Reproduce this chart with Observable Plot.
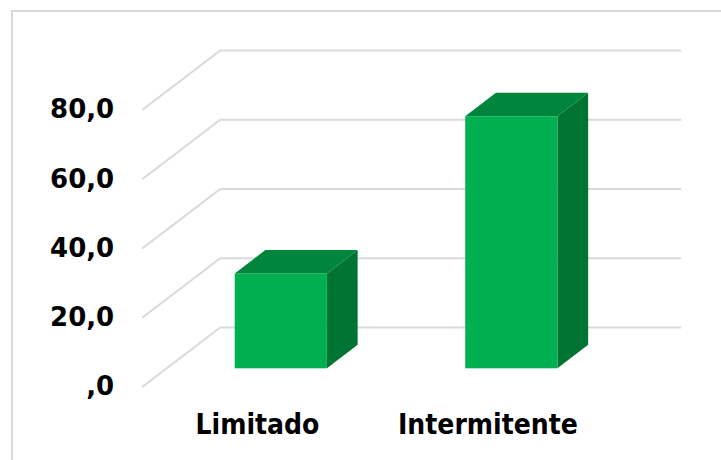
<!DOCTYPE html>
<html>
<head>
<meta charset="utf-8">
<script src="https://cdn.jsdelivr.net/npm/d3@7"></script>
<script src="https://cdn.jsdelivr.net/npm/@observablehq/plot@0.6"></script>
<style>
  html, body { margin: 0; padding: 0; background: #fff; overflow: hidden; }
  #wrap { position: relative; width: 721px; height: 460px; }
  #frame { position: absolute; left: 11px; top: 10px; width: 1000px; height: 1000px;
           border-left: 2px solid #d9d9d9; border-top: 2px solid #d9d9d9; }
  #chart { position: absolute; left: 0; top: 0; }
  .xlab text { font-family: "DejaVu Sans Condensed", "DejaVu Sans"; font-stretch: condensed; }
</style>
</head>
<body>
<div id="wrap"><div id="frame"></div><div id="chart"></div></div>
<script>
// Data
const categories = ["Limitado", "Intermitente"];
const values = [27.4, 72.8];
const yTicks = [0, 20, 40, 60, 80];

// 3D oblique projection constants (in data units)
const DX = 78 / 230.5;   // full floor depth, x units
const DY = 17.18;        // full floor depth, y units
const d1 = 0.306, d2 = 0.70; // bar front/back depth fractions
const bw = 0.4;          // bar width in category units

const bars = categories.map((c, i) => ({cat: c, i, v: values[i]}));

// gridlines (floor-to-back-wall diagonal + back wall horizontal)
const diagLines = yTicks.map(t => ({x1: 0, y1: t, x2: DX, y2: t + DY}));
const backLines = yTicks.map(t => ({x1: DX, y1: t + DY, x2: 2 + DX, y2: t + DY}));

// faces
const frontFaces = bars.map(b => ({
  x1: b.i + 0.5 - bw / 2 + d1 * DX, x2: b.i + 0.5 + bw / 2 + d1 * DX,
  y1: d1 * DY, y2: b.v + d1 * DY
}));
const sideFaces = bars.flatMap(b => [
  {z: b.cat, x: b.i + 0.5 + bw / 2 + d1 * DX, y1: d1 * DY, y2: b.v + d1 * DY},
  {z: b.cat, x: b.i + 0.5 + bw / 2 + d2 * DX, y1: d2 * DY, y2: b.v + d2 * DY}
]);
const topFaces = bars.flatMap(b => [
  {z: b.cat, y: b.v + d1 * DY, x1: b.i + 0.5 - bw / 2 + d1 * DX, x2: b.i + 0.5 + bw / 2 + d1 * DX},
  {z: b.cat, y: b.v + d2 * DY, x1: b.i + 0.5 - bw / 2 + d2 * DX, x2: b.i + 0.5 + bw / 2 + d2 * DX}
]);

const fmt = v => v === 0 ? ",0" : v.toFixed(1).replace(".", ",");

const chart = Plot.plot({
  width: 721,
  height: 460,
  marginLeft: 141.7,
  marginRight: 118.3,
  marginTop: 109.5,
  marginBottom: 73.5,
  style: {fontFamily: "DejaVu Sans", background: "transparent", color: "#000"},
  x: {type: "linear", domain: [0, 2]},
  y: {type: "linear", domain: [0, 80]},
  marks: [
    Plot.link(diagLines, {x1: "x1", y1: "y1", x2: "x2", y2: "y2", stroke: "#d9d9d9", strokeWidth: 2}),
    Plot.link(backLines, {x1: "x1", y1: "y1", x2: "x2", y2: "y2", stroke: "#d9d9d9", strokeWidth: 2}),
    Plot.areaY(sideFaces, {x: "x", y1: "y1", y2: "y2", z: "z", fill: "#007432", curve: "linear"}),
    Plot.areaX(topFaces, {y: "y", x1: "x1", x2: "x2", z: "z", fill: "#00853d", curve: "linear"}),
    Plot.rect(frontFaces, {x1: "x1", x2: "x2", y1: "y1", y2: "y2", fill: "#00b050"}),
    Plot.axisY({ticks: yTicks, tickFormat: fmt, tickSize: 0, tickPadding: 28,
                fontSize: 26, fontWeight: "bold", label: null}),
    Plot.axisX({ticks: [0.5, 1.5], tickFormat: d => categories[Math.floor(d)], tickSize: 0,
                tickPadding: 27, fontSize: 28, fontWeight: "bold", label: null, className: "xlab"})
  ]
});
document.getElementById("chart").appendChild(chart);
</script>
</body>
</html>
